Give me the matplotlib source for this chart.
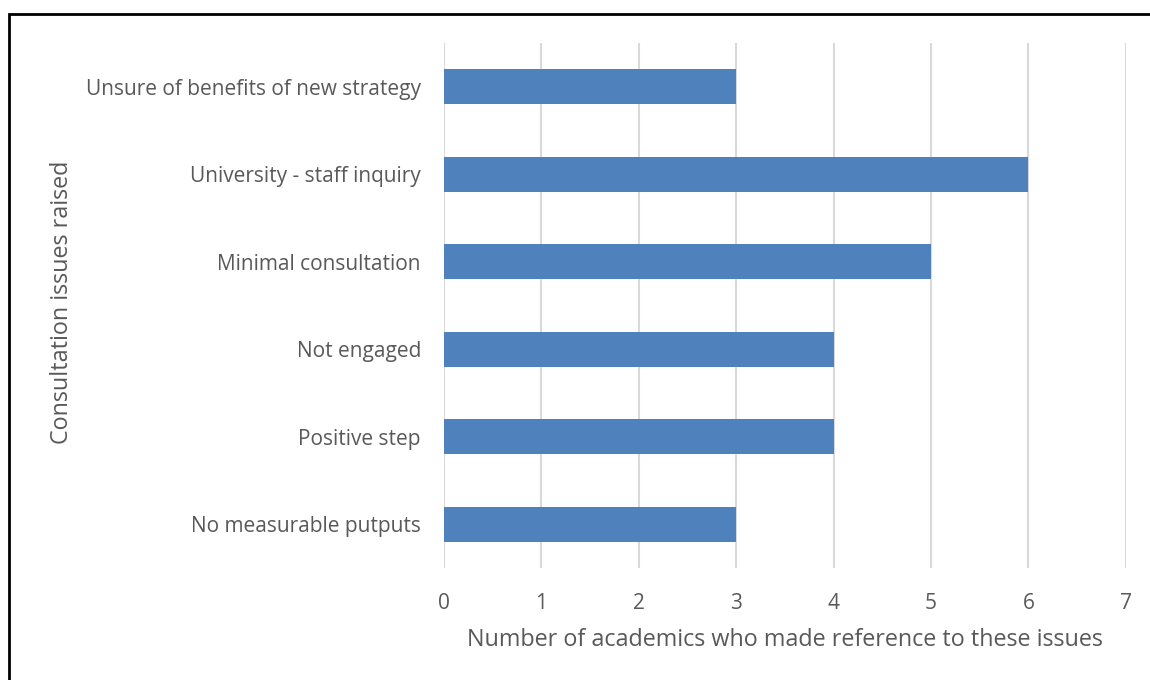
import matplotlib
matplotlib.use("Agg")
import matplotlib.pyplot as plt
from matplotlib.patches import Rectangle

# Data (top to bottom as shown)
issues = ['Unsure of benefits of new strategy', 'University - staff inquiry',
          'Minimal consultation', 'Not engaged', 'Positive step',
          'No measurable putputs']
counts = [3, 6, 5, 4, 4, 3]
x_ticks = [0, 1, 2, 3, 4, 5, 6, 7]

plt.rcParams['font.family'] = ['Open Sans', 'DejaVu Sans']
text_col = '#595959'

fig = plt.figure(figsize=(11.5, 6.8), dpi=100)
ax = fig.add_axes([0.386, 0.165, 0.593, 0.772])

ypos = list(range(len(issues)))[::-1]
ax.barh(ypos, counts, height=0.4, color='#4f81bd', zorder=3)

ax.set_xlim(0, 7)
ax.set_ylim(-0.5, len(issues) - 0.5)
ax.set_xticks(x_ticks)
ax.set_yticks(ypos)
ax.set_yticklabels(issues)
ax.tick_params(axis='both', length=0, colors=text_col, labelsize=15)
ax.tick_params(axis='x', pad=18)
ax.tick_params(axis='y', pad=16.5)
ax.grid(axis='x', color='#d9d9d9', linewidth=1.5, zorder=0)
for s in ax.spines.values():
    s.set_visible(False)

ax.set_xlabel('Number of academics who made reference to these issues',
              fontsize=16.8, color=text_col, labelpad=10)
fig.text(0.054, 0.556, 'Consultation issues raised', rotation=90,
         fontsize=16.8, color=text_col, ha='center', va='center')

# outer chart border
fig.patches.append(Rectangle((9 / 1150, -0.05), 1.1, 1 - 14 / 680 + 0.05,
                             transform=fig.transFigure, fill=False,
                             edgecolor='black', linewidth=2))

fig.savefig('out.png', dpi=100)
